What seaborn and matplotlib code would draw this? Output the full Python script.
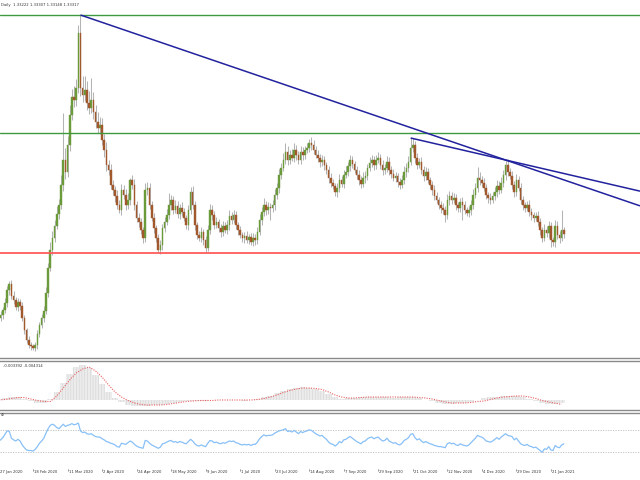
import numpy as np
import matplotlib
matplotlib.use("Agg")
import matplotlib.pyplot as plt
import matplotlib.transforms as mtransforms
import seaborn as sns

# ---------------- data ----------------
header_text = "Daily  1.33222 1.33307 1.33148 1.33317"
macd_text = "-0.003392 -0.004314"
rsi_text = "4)"

tick_step = 16
tick_labels = ["27 Jan 2020", "18 Feb 2020", "11 Mar 2020", "2 Apr 2020", "24 Apr 2020",
               "18 May 2020", "9 Jun 2020", "1 Jul 2020", "23 Jul 2020", "14 Aug 2020",
               "7 Sep 2020", "29 Sep 2020", "21 Oct 2020", "12 Nov 2020", "4 Dec 2020",
               "29 Dec 2020", "21 Jan 2021"]

first_open = 1.2890
closes = [
    1.291, 1.2925, 1.295, 1.2985, 1.305, 1.308, 1.302, 1.300, 1.2965, 1.299,
    1.297, 1.291, 1.285, 1.280, 1.2775, 1.277, 1.276, 1.2775, 1.283, 1.2875,
    1.291, 1.2945, 1.3035, 1.316, 1.325, 1.331, 1.337, 1.343, 1.3475, 1.3575,
    1.370, 1.364, 1.3775, 1.3925, 1.4015, 1.400, 1.406, 1.4335, 1.406, 1.4025,
    1.405, 1.3985, 1.396, 1.400, 1.394, 1.389, 1.386, 1.3875, 1.380, 1.375,
    1.3675, 1.365, 1.3575, 1.355, 1.352, 1.3475, 1.345, 1.355, 1.3525, 1.3475,
    1.350, 1.360, 1.3575, 1.3475, 1.341, 1.339, 1.335, 1.331, 1.355, 1.356,
    1.3475, 1.341, 1.336, 1.331, 1.325, 1.3275, 1.336, 1.339, 1.3425, 1.3475,
    1.350, 1.345, 1.347, 1.343, 1.346, 1.344, 1.341, 1.3375, 1.345, 1.354,
    1.3475, 1.3375, 1.3325, 1.331, 1.334, 1.330, 1.326, 1.335, 1.345, 1.3425,
    1.3375, 1.339, 1.336, 1.334, 1.337, 1.335, 1.3375, 1.342, 1.340, 1.3425,
    1.3375, 1.335, 1.3325, 1.331, 1.332, 1.330, 1.3315, 1.329, 1.331, 1.330,
    1.334, 1.340, 1.344, 1.3475, 1.345, 1.3465, 1.346, 1.3475, 1.3525, 1.356,
    1.3625, 1.366, 1.370, 1.374, 1.370, 1.3725, 1.371, 1.375, 1.3725, 1.370,
    1.374, 1.3725, 1.375, 1.376, 1.3785, 1.3775, 1.375, 1.3725, 1.371, 1.369,
    1.370, 1.3675, 1.365, 1.361, 1.3585, 1.357, 1.354, 1.356, 1.360, 1.358,
    1.3625, 1.364, 1.367, 1.370, 1.368, 1.365, 1.3625, 1.360, 1.358, 1.361,
    1.362, 1.366, 1.3685, 1.370, 1.3675, 1.370, 1.371, 1.3675, 1.365, 1.366,
    1.369, 1.365, 1.363, 1.361, 1.362, 1.359, 1.3575, 1.360, 1.364, 1.366,
    1.369, 1.376, 1.3775, 1.371, 1.3675, 1.369, 1.365, 1.362, 1.364, 1.360,
    1.3575, 1.355, 1.352, 1.350, 1.3475, 1.346, 1.345, 1.3425, 1.350, 1.352,
    1.350, 1.351, 1.3475, 1.346, 1.349, 1.3475, 1.345, 1.3435, 1.345, 1.3475,
    1.3525, 1.356, 1.361, 1.360, 1.3585, 1.356, 1.3525, 1.351, 1.350, 1.352,
    1.354, 1.357, 1.355, 1.3585, 1.3625, 1.3675, 1.364, 1.362, 1.3575, 1.354,
    1.360, 1.356, 1.350, 1.3475, 1.346, 1.3475, 1.344, 1.3425, 1.341, 1.342,
    1.339, 1.335, 1.331, 1.335, 1.3335, 1.337, 1.330, 1.329, 1.337, 1.3325,
    1.331, 1.335, 1.3332,
]
upper_wick_pips = [
    15, 20, 15, 25, 20, 15, 20, 25, 15, 20,
    15, 20, 15, 10, 20, 15, 10, 15, 20, 15,
    20, 25, 30, 25, 40, 35, 30, 40, 30, 50,
    235, 60, 45, 50, 40, 55, 45, 40, 90, 60,
    70, 45, 60, 110, 40, 35, 50, 40, 35, 30,
    40, 25, 30, 25, 20, 30, 25, 30, 25, 30,
    35, 10, 25, 30, 20, 25, 20, 15, 35, 30,
    25, 20, 25, 15, 20, 25, 20, 25, 30, 60,
    25, 20, 30, 25, 20, 30, 20, 15, 25, 25,
    30, 20, 15, 20, 25, 15, 20, 25, 30, 25,
    20, 25, 15, 20, 25, 20, 25, 30, 20, 25,
    20, 15, 20, 15, 20, 25, 15, 20, 25, 20,
    25, 30, 25, 35, 20, 25, 20, 25, 30, 25,
    30, 25, 35, 45, 30, 25, 30, 35, 25, 20,
    30, 25, 20, 25, 20, 30, 25, 20, 25, 20,
    25, 20, 15, 20, 25, 20, 15, 25, 30, 20,
    25, 30, 20, 25, 20, 15, 20, 25, 20, 30,
    25, 20, 30, 25, 20, 25, 30, 20, 25, 20,
    30, 25, 20, 25, 20, 15, 20, 25, 30, 25,
    30, 50, 35, 20, 25, 20, 25, 20, 25, 20,
    15, 20, 25, 20, 15, 20, 25, 20, 30, 25,
    20, 25, 20, 15, 20, 25, 20, 15, 20, 25,
    30, 25, 55, 30, 20, 25, 20, 15, 25, 20,
    25, 30, 25, 30, 25, 25, 30, 20, 25, 20,
    30, 20, 25, 20, 15, 20, 25, 20, 15, 20,
    25, 20, 15, 30, 20, 25, 20, 15, 30, 25,
    20, 100, 15,
]
lower_wick_pips = [
    20, 15, 20, 15, 20, 25, 15, 20, 15, 20,
    20, 15, 20, 15, 15, 20, 10, 15, 20, 15,
    15, 20, 15, 20, 15, 25, 20, 15, 25, 20,
    30, 35, 25, 30, 25, 35, 30, 25, 40, 35,
    30, 35, 30, 25, 35, 30, 25, 30, 25, 35,
    30, 25, 20, 25, 30, 20, 15, 25, 20, 25,
    20, 25, 20, 25, 20, 25, 20, 25, 20, 25,
    20, 15, 25, 20, 15, 20, 25, 20, 15, 20,
    25, 20, 15, 20, 25, 20, 15, 20, 25, 20,
    20, 25, 20, 15, 20, 25, 20, 15, 20, 25,
    20, 15, 20, 25, 20, 15, 20, 25, 20, 15,
    20, 25, 15, 20, 25, 15, 20, 15, 20, 25,
    20, 15, 25, 20, 25, 20, 60, 20, 25, 20,
    25, 20, 15, 20, 25, 20, 15, 20, 25, 20,
    20, 25, 20, 15, 20, 25, 20, 15, 20, 25,
    20, 25, 20, 25, 20, 15, 20, 25, 20, 15,
    20, 15, 20, 25, 20, 15, 20, 25, 20, 15,
    25, 20, 15, 20, 25, 20, 15, 20, 25, 20,
    20, 25, 20, 15, 20, 25, 20, 15, 20, 25,
    20, 15, 20, 25, 20, 15, 20, 25, 20, 15,
    20, 25, 20, 15, 20, 25, 20, 35, 20, 25,
    20, 15, 25, 20, 20, 75, 20, 15, 20, 25,
    20, 15, 20, 25, 20, 15, 20, 25, 20, 15,
    20, 25, 20, 15, 20, 25, 20, 15, 20, 25,
    20, 15, 20, 25, 20, 15, 20, 25, 20, 15,
    20, 25, 20, 15, 20, 25, 35, 20, 25, 20,
    25, 15, 20,
]
rsi_values = [
    50, 52, 56, 62, 68, 67, 55, 52, 50, 53,
    50, 43, 38, 34, 33, 33, 32, 35, 40, 46,
    50, 55, 64, 72, 78, 80, 78, 74, 72, 76,
    80, 76, 78, 79, 81, 79, 80, 82, 68, 65,
    66, 63, 62, 63, 60, 58, 57, 57, 54, 52,
    49, 48, 46, 45, 43, 40, 39, 46, 45, 44,
    47, 50, 48, 44, 41, 39, 38, 37, 51, 50,
    46, 43, 41, 39, 37, 39, 45, 46, 48, 50,
    51, 48, 49, 47, 49, 48, 46, 45, 49, 53,
    50, 45, 42, 41, 43, 41, 40, 46, 51, 50,
    47, 48, 46, 45, 47, 46, 48, 50, 49, 50,
    47, 46, 44, 43, 44, 43, 44, 42, 44, 44,
    48, 54, 58, 61, 59, 60, 60, 61, 64, 66,
    68, 69, 70, 72, 67, 68, 66, 69, 66, 63,
    67, 65, 67, 68, 70, 69, 66, 63, 61, 59,
    60, 56, 53, 48, 45, 44, 41, 44, 49, 47,
    52, 53, 56, 58, 55, 52, 49, 47, 45, 49,
    50, 54, 56, 57, 54, 56, 57, 53, 50, 51,
    55, 50, 48, 46, 47, 44, 43, 46, 51, 53,
    56, 62, 63, 56, 52, 54, 50, 47, 49, 47,
    45, 44, 42, 41, 40, 40, 39, 38, 45, 47,
    45, 46, 43, 42, 45, 43, 42, 41, 43, 47,
    51, 55, 60, 58, 57, 54, 50, 49, 48, 50,
    53, 56, 53, 57, 60, 63, 60, 59, 58, 52,
    55, 50, 45, 43, 42, 44, 41, 40, 38, 39,
    36, 33, 30, 36, 35, 40, 34, 33, 42, 39,
    38, 43, 45,
]
rsi_levels = [30, 70]

macd_step = 3
macd_main = [
    0.001, 0.002, 0.003, 0.003, 0.0015, -0.001, -0.003, -0.0025, 0.001, 0.008,
    0.017, 0.026, 0.033, 0.035, 0.032, 0.025, 0.016, 0.008, 0.002, -0.002,
    -0.0045, -0.0055, -0.006, -0.0055, -0.005, -0.0045, -0.0035, -0.0025, -0.0015, -0.001,
    -0.0005, -0.0005, -0.0005, 0.0, 0.0, 0.0, 0.0005, 0.0, -0.0005, 0.0,
    0.0015, 0.003, 0.0045, 0.007, 0.009, 0.011, 0.0125, 0.013, 0.0125, 0.011,
    0.009, 0.006, 0.003, 0.0015, 0.002, 0.0025, 0.003, 0.0035, 0.003, 0.003,
    0.003, 0.0025, 0.003, 0.0035, 0.0035, 0.002, 0.0005, -0.001, -0.0025, -0.0035,
    -0.0035, -0.003, -0.0025, -0.0015, 0.0005, 0.002, 0.003, 0.0035, 0.004, 0.0045,
    0.004, 0.003, 0.001, -0.001, -0.0025, -0.0035, -0.004, -0.0034,
]
macd_signal = [
    0.0, 0.0005, 0.0015, 0.0025, 0.0025, 0.001, -0.0005, -0.0015, -0.0015, 0.004,
    0.012, 0.020, 0.027, 0.031, 0.033, 0.029, 0.023, 0.015, 0.008, 0.003,
    -0.0005, -0.003, -0.0045, -0.005, -0.005, -0.005, -0.0045, -0.0035, -0.0025, -0.0015,
    -0.001, -0.0005, -0.0005, -0.0005, 0.0, 0.0, 0.0, 0.0, 0.0, 0.0,
    0.0005, 0.0015, 0.003, 0.005, 0.0075, 0.0095, 0.011, 0.012, 0.012, 0.0115,
    0.0105, 0.008, 0.005, 0.003, 0.002, 0.002, 0.0025, 0.003, 0.003, 0.003,
    0.003, 0.003, 0.003, 0.003, 0.003, 0.0025, 0.002, 0.001, -0.0005, -0.002,
    -0.003, -0.003, -0.003, -0.0025, -0.0015, -0.001, 0.0005, 0.002, 0.003, 0.0035,
    0.004, 0.004, 0.003, 0.0015, -0.0005, -0.002, -0.0032, -0.0043,
]

green_levels = [1.4425, 1.3835]
red_levels = [1.3235]
trend1_idx, trend1_price = [38, 235], [1.4425, 1.3700]
trend2_idx, trend2_price = [191, 235], [1.3810, 1.3700]

# ---------------- derived ----------------
n = len(closes)
assert len(upper_wick_pips) == n and len(lower_wick_pips) == n and len(rsi_values) == n
assert len(macd_main) == len(macd_signal)

idx = np.arange(n)
c = np.array(closes)
o = np.r_[first_open, c[:-1]]
top = np.maximum(o, c)
bot = np.minimum(o, c)
highs = top + np.array(upper_wick_pips) * 1e-4
lows = bot - np.array(lower_wick_pips) * 1e-4
bull = c >= o
macd_x = np.arange(len(macd_main)) * macd_step

# ---------------- style ----------------
sns.set_style("white")
plt.rcParams["font.family"] = ["DejaVu Sans"]
plt.rcParams["hatch.linewidth"] = 0.35

BULL = "#6b9a3a"
BEAR = "#a0582c"
WICK = "#b4b4b4"
GREEN = "#3f9a3f"
RED = "#ff5c5c"
BLUE = "#22229e"
SEP = "#8a8a8a"
TXT = "#333333"
FS = 2.7

fig = plt.figure(figsize=(6.4, 4.8), dpi=100)
H = 480.0


def axpos(top_px, bot_px):
    return [0.0, (H - bot_px) / H, 1.0, (bot_px - top_px) / H]


ax = fig.add_axes(axpos(0, 358))
axm = fig.add_axes(axpos(361, 410))
axr = fig.add_axes(axpos(413, 469))

xlim = (0.7, 297.3)
for a in (ax, axm, axr):
    a.set_xlim(*xlim)
    a.set_facecolor("white")
    for s in a.spines.values():
        s.set_visible(False)
    a.set_yticks([])
    a.set_xticks([])

# main candles
ax.set_ylim(1.271, 1.450)
ax.vlines(idx, lows, highs, color=WICK, lw=0.75, zorder=1)
ax.bar(idx[bull], (top - bot)[bull], bottom=bot[bull], width=0.75,
       color=BULL, edgecolor=BULL, linewidth=0.3, zorder=2)
ax.bar(idx[~bull], (top - bot)[~bull], bottom=bot[~bull], width=0.75,
       color=BEAR, edgecolor=BEAR, linewidth=0.3, zorder=2)

for lv in green_levels:
    ax.axhline(lv, color=GREEN, lw=1.0, zorder=3)
for lv in red_levels:
    ax.axhline(lv, color=RED, lw=1.3, zorder=3)

for ti, tp in ((trend1_idx, trend1_price), (trend2_idx, trend2_price)):
    slope = (tp[1] - tp[0]) / (ti[1] - ti[0])
    x_end = xlim[1]
    ax.plot([ti[0], x_end], [tp[0], tp[0] + slope * (x_end - ti[0])],
            color=BLUE, lw=1.1, zorder=4, solid_capstyle="butt")

ax.spines["bottom"].set_visible(True)
ax.spines["bottom"].set_color(SEP)
ax.spines["bottom"].set_linewidth(1.0)

# MACD
axm.set_ylim(-0.010, 0.039)
axm.bar(macd_x, macd_main, width=macd_step, color="#ececec", edgecolor="#cfcfcf",
        hatch="||||||", linewidth=0, zorder=1)
sns.lineplot(x=macd_x, y=macd_signal, ax=axm, color="#e86060", linewidth=0.8,
             linestyle=(0, (1, 1.2)), zorder=2)
for sp in ("top", "bottom"):
    axm.spines[sp].set_visible(True)
    axm.spines[sp].set_color(SEP)
    axm.spines[sp].set_linewidth(1.0)

# RSI
axr.set_ylim(0, 100)
for lv in rsi_levels:
    axr.axhline(lv, color="#bdbdbd", lw=0.6, ls=(0, (1.5, 1.5)), zorder=1)
sns.lineplot(x=idx, y=rsi_values, ax=axr, color="#88c0f8", linewidth=0.9, zorder=2)
axr.spines["top"].set_visible(True)
axr.spines["top"].set_color(SEP)
axr.spines["top"].set_linewidth(1.0)

for a in (ax, axm, axr):
    a.set_xlabel("")
    a.set_ylabel("")
    a.set_xlim(*xlim)

# time scale: tick marks and labels (drawn as text so the first one is kept)
trans = mtransforms.blended_transform_factory(axr.transData, axr.transAxes)
px_per_bar = 640.0 / (xlim[1] - xlim[0])
for k, lab in enumerate(tick_labels):
    pos = k * tick_step
    if pos >= xlim[0]:
        axr.plot([pos, pos], [0, -0.04], transform=trans, color="#555555", lw=0.4,
                 clip_on=False)
        tx = pos + 1.0 / px_per_bar
    else:
        tx = xlim[0] + 0.3 / px_per_bar
    axr.text(tx, -0.02, lab, transform=trans, fontsize=FS, color=TXT,
             ha="left", va="top", clip_on=False)

# header texts
fig.text(1 / 640, 1 - 5 / H, header_text, fontsize=FS, va="center", ha="left", color=TXT)
fig.text(3 / 640, 1 - 366 / H, macd_text, fontsize=FS, va="center", ha="left", color=TXT)
fig.text(0.5 / 640, 1 - 415 / H, rsi_text, fontsize=FS, va="center", ha="left", color=TXT)

fig.savefig("out.png", dpi=100)
